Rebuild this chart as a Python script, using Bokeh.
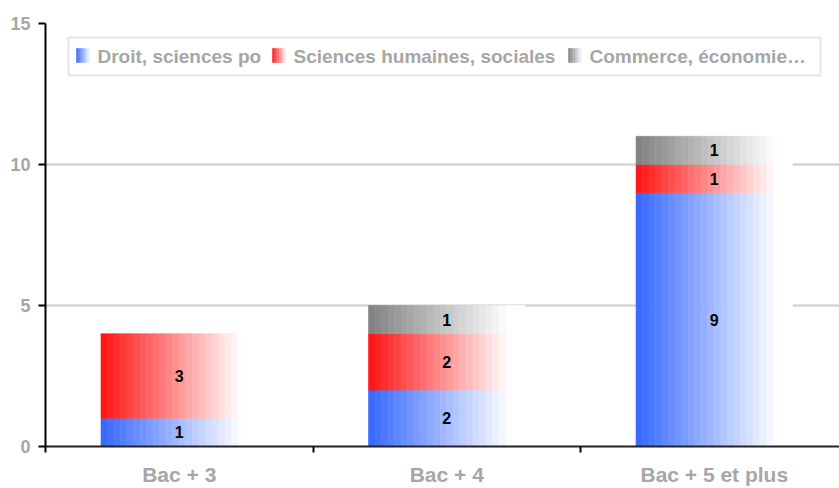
from bokeh.plotting import figure
from bokeh.models import Range1d, FixedTicker, Label, BoxAnnotation, ColumnDataSource
from bokeh.core.properties import value
from bokeh.embed import file_html
from bokeh.resources import INLINE

# ---- data ----
categories = ["Bac + 3", "Bac + 4", "Bac + 5 et plus"]
series_names = ["Droit, sciences po", "Sciences humaines, sociales", "Commerce, économie…"]
droit = [1, 2, 9]
sciences_humaines = [3, 2, 1]
commerce = [0, 1, 1]
y_ticks = [0, 5, 10, 15]

series_values = [droit, sciences_humaines, commerce]
base_colors = [(51, 102, 255), (255, 17, 17), (128, 128, 128)]

FONT_NAME = "Liberation Sans"
FONT = value(FONT_NAME)
LABEL_GRAY = "#a6a6a6"

# ---- layout ----
W, H = 839, 488
FRAME_LEFT, FRAME_TOP, FRAME_BOTTOM = 45, 23, 42
X_END = 2.968
Y_END = 15

p = figure(width=W, height=H, x_range=Range1d(0, X_END), y_range=Range1d(0, Y_END),
           output_backend="svg", toolbar_location=None,
           min_border_left=FRAME_LEFT, min_border_right=0,
           min_border_top=FRAME_TOP, min_border_bottom=FRAME_BOTTOM)
p.outline_line_color = None
p.background_fill_color = "white"

frame_w = W - FRAME_LEFT
frame_h = H - FRAME_TOP - FRAME_BOTTOM
px_per_x = frame_w / X_END
px_per_y = frame_h / Y_END


def dx(px):
    return (px - FRAME_LEFT) / px_per_x


def dy(py):
    return (H - FRAME_BOTTOM - py) / px_per_y


def mix(c, m):
    return "#%02x%02x%02x" % tuple(int(round(ch + (255 - ch) * m)) for ch in c)


# ---- bars as horizontal gradient slices ----
N = 24
BAR_W = 0.585
L, R, B, T, C = [], [], [], [], []
tx, ty, tt = [], [], []
for i, cat in enumerate(categories):
    xc = i + 0.5
    base = 0
    for s, vals in enumerate(series_values):
        v = vals[i]
        if v > 0:
            x0 = xc - BAR_W / 2
            for k in range(N):
                m = min(1.0, ((k + 0.5) / N) / 0.9)
                L.append(x0 + k * BAR_W / N)
                R.append(x0 + (k + 1) * BAR_W / N)
                B.append(base)
                T.append(base + v)
                C.append(mix(base_colors[s], m))
            tx.append(xc)
            ty.append(base + v / 2)
            tt.append(str(v))
        base += v

src = ColumnDataSource(dict(left=L, right=R, bottom=B, top=T, color=C))
p.quad(left="left", right="right", bottom="bottom", top="top", source=src,
       fill_color="color", line_color="color", line_width=0.6)

p.text(x=tx, y=ty, text=tt, text_align="center", text_baseline="middle",
       text_font=FONT, text_font_style="bold", text_font_size="16px", text_color="black")

# ---- axes ----
p.xaxis.ticker = FixedTicker(ticks=[i + 0.5 for i in range(len(categories))],
                             minor_ticks=list(range(len(categories) + 1)))
p.xaxis.major_label_overrides = {i + 0.5: c for i, c in enumerate(categories)}
p.xaxis.major_tick_line_color = None
p.xaxis.major_tick_out = 0
p.xaxis.major_tick_in = 0
p.xaxis.minor_tick_out = 6
p.xaxis.minor_tick_in = 0
p.xaxis.minor_tick_line_color = "black"
p.xaxis.minor_tick_line_width = 2
p.xaxis.axis_line_color = "#222222"
p.xaxis.axis_line_width = 2
p.xaxis.major_label_standoff = 10
p.xaxis.major_label_text_font = FONT_NAME
p.xaxis.major_label_text_font_style = "bold"
p.xaxis.major_label_text_font_size = "21px"
p.xaxis.major_label_text_color = LABEL_GRAY

p.yaxis.ticker = FixedTicker(ticks=y_ticks, minor_ticks=[])
p.yaxis.major_tick_out = 7
p.yaxis.major_tick_in = 0
p.yaxis.major_tick_line_width = 2
p.yaxis.major_tick_line_color = "black"
p.yaxis.axis_line_color = "black"
p.yaxis.axis_line_width = 2
p.yaxis.major_label_standoff = 8
p.yaxis.major_label_text_font = FONT_NAME
p.yaxis.major_label_text_font_style = "bold"
p.yaxis.major_label_text_font_size = "18px"
p.yaxis.major_label_text_color = LABEL_GRAY

p.xgrid.visible = False
p.ygrid.ticker = FixedTicker(ticks=y_ticks, minor_ticks=[])
p.ygrid.grid_line_color = "#cccccc"
p.ygrid.grid_line_width = 2

# ---- legend (drawn manually to show gradient swatches) ----
p.add_layout(BoxAnnotation(left=dx(68), right=dx(820), top=dy(37), bottom=dy(75),
                           fill_alpha=0, line_color="#a8a8a8", line_width=2))
swatch_left = [76, 272, 568]
text_left = [97, 293, 589]
NS = 6
SW = 13
sL, sR, sB, sT, sC = [], [], [], [], []
for s, name in enumerate(series_names):
    for k in range(NS):
        m = min(1.0, (k + 0.5) / NS * 0.95)
        sL.append(dx(swatch_left[s] + k * SW / NS))
        sR.append(dx(swatch_left[s] + (k + 1) * SW / NS))
        sB.append(dy(62))
        sT.append(dy(48))
        sC.append(mix(base_colors[s], m))
    p.add_layout(Label(x=dx(text_left[s]), y=dy(55.5), text=name, text_baseline="middle",
                       text_font=FONT_NAME, text_font_style="bold",
                       text_font_size="19px", text_color=LABEL_GRAY))
ssrc = ColumnDataSource(dict(left=sL, right=sR, bottom=sB, top=sT, color=sC))
p.quad(left="left", right="right", bottom="bottom", top="top", source=ssrc,
       fill_color="color", line_color="color", line_width=0.5)

open("out.html", "w").write(file_html(p, INLINE))
